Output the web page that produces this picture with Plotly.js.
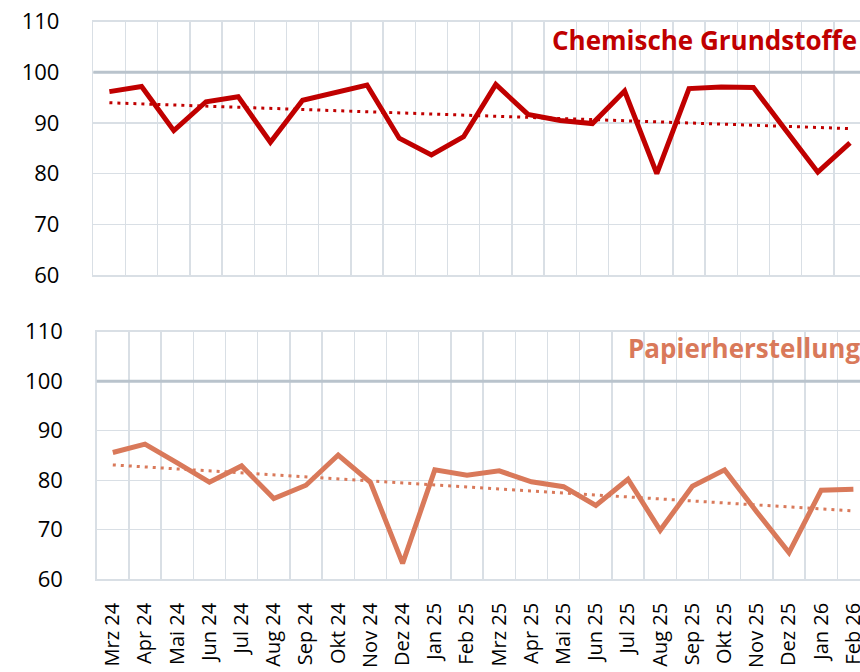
<!DOCTYPE html>
<html>
<head>
<meta charset="utf-8">
<script src="https://cdn.plot.ly/plotly-3.0.1.min.js"></script>
<style>
  html, body { margin: 0; padding: 0; background: #ffffff; overflow: hidden; }
  #chart { width: 860px; height: 672px; }
</style>
</head>
<body>
<div id="chart"></div>
<script>
const categories = ['Mrz 24','Apr 24','Mai 24','Jun 24','Jul 24','Aug 24','Sep 24','Okt 24','Nov 24','Dez 24','Jan 25','Feb 25',
                    'Mrz 25','Apr 25','Mai 25','Jun 25','Jul 25','Aug 25','Sep 25','Okt 25','Nov 25','Dez 25','Jan 26','Feb 26'];
const chemie = [96.2,97.2,88.5,94.2,95.2,86.2,94.5,96.0,97.5,87.0,83.7,87.3,97.6,91.7,90.5,89.9,96.3,80.0,96.8,97.1,97.0,88.6,80.3,86.1];
const papier = [85.6,87.3,83.5,79.6,82.9,76.3,79.0,85.1,79.6,63.2,82.1,81.0,81.9,79.7,78.7,74.9,80.2,69.9,78.8,82.1,73.6,65.4,78.0,78.2];
// trend line end values (first / last month)
const chemieTrend = [94.0, 88.9];
const papierTrend = [83.1, 73.8];
const yTicks = [60, 70, 80, 90, 100, 110];
const titleChemie = 'Chemische Grundstoffe';
const titlePapier = 'Papierherstellung';

const colChemie = '#C00000';
const colPapier = '#D9795A';
const gridCol = '#D9DFE5';
const refCol = '#B9C3CC';

const W = 860, H = 672;
const trendX = [categories[0], categories[categories.length - 1]];

const traces = [
  {x: categories, y: chemie, xaxis: 'x', yaxis: 'y', mode: 'lines', line: {color: colChemie, width: 5}, hoverinfo: 'skip'},
  {x: trendX, y: chemieTrend, xaxis: 'x', yaxis: 'y', mode: 'lines', line: {color: colChemie, width: 3, dash: '3px,5px'}, hoverinfo: 'skip'},
  {x: categories, y: papier, xaxis: 'x2', yaxis: 'y2', mode: 'lines', line: {color: colPapier, width: 5}, hoverinfo: 'skip'},
  {x: trendX, y: papierTrend, xaxis: 'x2', yaxis: 'y2', mode: 'lines', line: {color: colPapier, width: 3, dash: '3px,5px'}, hoverinfo: 'skip'}
];

const step = 32.2;
const topLeft = 93.3, botLeft = 96.7;

function xAx(left, anchor, showLabels) {
  return {
    type: 'category',
    domain: [left / W, 1],
    range: [-0.5, -0.5 + (W - left) / step],
    anchor: anchor,
    tickson: 'boundaries',
    showgrid: true,
    gridcolor: gridCol,
    gridwidth: 1.5,
    showline: true,
    linecolor: gridCol,
    linewidth: 1.5,
    mirror: true,
    ticks: '',
    showticklabels: showLabels,
    tickangle: -90,
    ticklabelstandoff: 14,
    tickfont: {family: 'Open Sans, sans-serif', size: 20, color: '#000000'},
    zeroline: false,
    fixedrange: true
  };
}
function yAx(domTop, domBot, anchor) {
  return {
    domain: [1 - domBot / H, 1 - domTop / H],
    range: [60, 110],
    anchor: anchor,
    tickmode: 'array',
    tickvals: yTicks,
    ticktext: yTicks.map(String),
    showgrid: true,
    gridcolor: gridCol,
    gridwidth: 1.3,
    showline: true,
    linecolor: gridCol,
    linewidth: 1.5,
    mirror: false,
    ticks: '',
    ticklabelstandoff: 28,
    tickfont: {family: 'Open Sans, sans-serif', size: 22, color: '#000000'},
    zeroline: false,
    fixedrange: true
  };
}

const layout = {
  width: W, height: H,
  margin: {l: 0, r: 0, t: 0, b: 0},
  paper_bgcolor: '#ffffff',
  plot_bgcolor: '#ffffff',
  showlegend: false,
  xaxis: xAx(topLeft, 'y', false),
  yaxis: yAx(21.7, 275, 'x'),
  xaxis2: xAx(botLeft, 'y2', true),
  yaxis2: yAx(331.7, 579.3, 'x2'),
  shapes: [
    {type: 'line', xref: 'x domain', yref: 'y', x0: 0, x1: 1, y0: 100, y1: 100, line: {color: refCol, width: 3}, layer: 'above'},
    {type: 'line', xref: 'x2 domain', yref: 'y2', x0: 0, x1: 1, y0: 100, y1: 100, line: {color: refCol, width: 3}, layer: 'above'}
  ],
  annotations: [
    {text: titleChemie, xref: 'paper', yref: 'paper', x: 550 / W, y: 1 - 40 / H, xanchor: 'left', yanchor: 'middle',
     showarrow: false, font: {family: 'Open Sans, sans-serif', size: 26, weight: 'bold', color: colChemie}},
    {text: titlePapier, xref: 'paper', yref: 'paper', x: 626 / W, y: 1 - 348 / H, xanchor: 'left', yanchor: 'middle',
     showarrow: false, font: {family: 'Open Sans, sans-serif', size: 26, weight: 'bold', color: colPapier}}
  ]
};

Plotly.newPlot('chart', traces, layout, {staticPlot: true, displayModeBar: false});
</script>
</body>
</html>
